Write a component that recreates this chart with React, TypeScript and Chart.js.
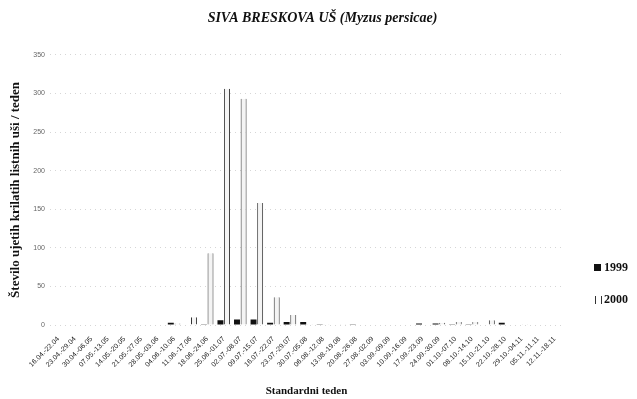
import React, { useEffect, useRef } from "react";
import { Chart, registerables } from "chart.js";

Chart.register(...registerables);

const weeks: string[] = [
  "16.04.-22.04", "23.04.-29.04", "30.04.-06.05", "07.05.-13.05", "14.05.-20.05",
  "21.05.-27.05", "28.05.-03.06", "04.06.-10.06", "11.06.-17.06", "18.06.-24.06",
  "25.06.-01.07", "02.07.-08.07", "09.07.-15.07", "16.07.-22.07", "23.07.-29.07",
  "30.07.-05.08", "06.08.-12.08", "13.08.-19.08", "20.08.-26.08", "27.08.-02.09",
  "03.09.-09.09", "10.09.-16.09", "17.09.-23.09", "24.09.-30.09", "01.10.-07.10",
  "08.10.-14.10", "15.10.-21.10", "22.10.-28.10", "29.10.-04.11", "05.11.-11.11",
  "12.11.-18.11",
];

const values1999: number[] = [
  0, 0, 0, 0, 0, 0, 0, 3, 0, 1,
  6, 7, 7, 3, 4, 4, 1, 0, 1, 0,
  0, 0, 2, 2, 1, 1, 0, 3, 0, 0,
  0,
];

const values2000: number[] = [
  0, 0, 0, 0, 1, 0, 0, 2, 10, 93,
  306, 293, 158, 36, 13, 1, 1, 1, 0, 0,
  0, 0, 0, 3, 4, 4, 6, 0, 1, 0,
  0,
];

const yTicks: number[] = [0, 50, 100, 150, 200, 250, 300, 350];

export default function App() {
  const ref = useRef<HTMLCanvasElement | null>(null);

  useEffect(() => {
    if (!ref.current) return;
    const chart = new Chart(ref.current, {
      type: "bar",
      data: {
        labels: weeks,
        datasets: [
          {
            label: "1999",
            data: values1999,
            backgroundColor: "#111",
            borderWidth: 0,
            categoryPercentage: 0.8,
            barPercentage: 0.9,
          },
          {
            label: "2000",
            data: values2000,
            backgroundColor: "#f4f4f4",
            borderColor: "#333",
            borderWidth: { left: 1, right: 1, top: 0, bottom: 0 },
            borderSkipped: "bottom",
            categoryPercentage: 0.8,
            barPercentage: 0.9,
          },
        ],
      },
      options: {
        animation: false,
        responsive: true,
        maintainAspectRatio: false,
        layout: { padding: { left: 8, right: 0, top: 0, bottom: 0 } },
        plugins: {
          legend: { display: false },
          tooltip: { enabled: false },
          title: {
            display: true,
            text: "SIVA BRESKOVA UŠ (Myzus persicae)",
            color: "#111",
            font: { family: "Liberation Serif", size: 14, weight: "bold", style: "italic" },
            padding: { top: 10, bottom: 28 },
          },
        },
        scales: {
          x: {
            grid: { display: false },
            border: { display: false },
            ticks: {
              autoSkip: false,
              minRotation: 45,
              maxRotation: 45,
              color: "#222",
              font: { family: "Liberation Sans", size: 7 },
              padding: 2,
            },
            title: {
              display: true,
              text: "Standardni teden",
              color: "#111",
              font: { family: "Liberation Serif", size: 11, weight: "bold" },
              padding: { top: 0, bottom: 1 },
            },
            afterFit: (s: any) => {
              s.height = 74;
            },
          },
          y: {
            min: 0,
            max: 350,
            afterBuildTicks: (s: any) => {
              s.ticks = yTicks.map((v) => ({ value: v }));
            },
            grid: {
              color: "#d6d6d6",
              lineWidth: 1,
              drawTicks: false,
            },
            border: { display: false, dash: [1, 4] },
            ticks: {
              color: "#666",
              font: { family: "Liberation Sans", size: 7 },
              padding: 5,
            },
            title: {
              display: true,
              text: "Število ujetih krilatih listnih uši / teden",
              color: "#111",
              font: { family: "Liberation Serif", size: 13, weight: "bold" },
              padding: { top: 0, bottom: 0 },
            },
            afterFit: (s: any) => {
              s.width = 42;
            },
          },
          yR: {
            position: "right",
            display: true,
            grid: { display: false },
            border: { display: false },
            ticks: { display: false },
            afterFit: (s: any) => {
              s.width = 74;
            },
          },
        },
      },
    });
    return () => chart.destroy();
  }, []);

  return (
    <div style={{ position: "fixed", left: 0, top: 0, width: 637, height: 399, background: "#fff" }}>
      <canvas ref={ref} />
      <div style={{ position: "absolute", left: 594, top: 260, display: "flex", alignItems: "center", fontFamily: "Liberation Serif", fontSize: 12, fontWeight: "bold", color: "#111" }}>
        <span style={{ display: "inline-block", width: 7, height: 7, background: "#111", marginRight: 3 }} />
        <span>1999</span>
      </div>
      <div style={{ position: "absolute", left: 595, top: 292, display: "flex", alignItems: "center", fontFamily: "Liberation Serif", fontSize: 12, fontWeight: "bold", color: "#111" }}>
        <span style={{ display: "inline-block", width: 5, height: 8, borderLeft: "1px solid #333", borderRight: "1px solid #333", marginRight: 2 }} />
        <span>2000</span>
      </div>
    </div>
  );
}
